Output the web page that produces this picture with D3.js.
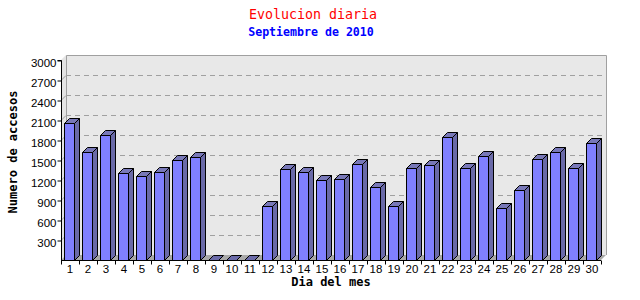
<!DOCTYPE html>
<html><head><meta charset="utf-8">
<script src="https://cdn.jsdelivr.net/npm/d3@7"></script>
<style>body{margin:0;background:#fff}svg{display:block}</style>
</head><body><svg id="c" width="640" height="300"></svg>
<script>
const days = ["1","2","3","4","5","6","7","8","9","10","11","12","13","14","15","16","17","18","19","20","21","22","23","24","25","26","27","28","29","30"];
const visits = [2060,1615,1870,1300,1260,1315,1495,1540,0,0,0,815,1360,1315,1195,1210,1435,1090,805,1375,1420,1840,1375,1555,775,1045,1510,1615,1375,1750];
const yTicks = [300,600,900,1200,1500,1800,2100,2400,2700,3000];
const titleText = "Evolucion diaria";
const subtitleText = "Septiembre de 2010";
const xTitle = "Dia del mes";
const yTitle = "Numero de accesos";

(function () {
const svg = d3.select("#c");
const L = 61, R = 601, T = 60, B = 260, D = 5;
const x = d3.scaleBand().domain(days).range([L, R]);
const y = d3.scaleLinear().domain([0, 3000]).range([B, T]);
const bw = x.bandwidth();

// walls
svg.append("rect").attr("x", L + D).attr("y", T - D).attr("width", R - L).attr("height", B - T)
  .attr("fill", "#e8e8e8");
svg.append("path").attr("d", `M${L},${T}L${L+D},${T-D}L${L+D},${B-D}L${L},${B}Z`).attr("fill", "#e4e4e4");
// floor
svg.append("path").attr("d", `M${L},${B}L${L+D},${B-D}L${R+D},${B-D}L${R},${B}Z`).attr("fill", "#a8a8a8");
// wall border
svg.append("path").attr("d", `M${L+D+0.5},${B-D}L${L+D+0.5},${T-D+0.5}L${R+D+0.5},${T-D+0.5}L${R+D+0.5},${B-D}`)
  .attr("fill", "none").attr("stroke", "#a0a0a0");
// gridlines
yTicks.forEach(t => {
  if (t === 3000) return;
  svg.append("line").attr("x1", L + D).attr("x2", R + D).attr("y1", y(t) - D + 0.5).attr("y2", y(t) - D + 0.5)
    .attr("stroke", "#a0a0a0").attr("stroke-dasharray", "5,4");
  svg.append("line").attr("x1", L).attr("x2", L + D).attr("y1", y(t) + 0.5).attr("y2", y(t) - D + 0.5)
    .attr("stroke", "#a0a0a0");
});

// bars
const cFront = "#8080ff", cSide = "#6a6aa8", cTop = "#7878b8";
const g = svg.append("g").attr("stroke", "#000").attr("stroke-width", 1).attr("stroke-linejoin", "round");
days.forEach((d, i) => {
  const v = visits[i];
  const x0 = Math.round(x(d) + bw * 0.19) + 0.5;
  const w = Math.round(bw * 0.53);
  const yt = Math.round(y(v)) + 0.5;
  const yb = B + 0.5;
  if (v > 0) {
    g.append("path").attr("fill", cSide)
      .attr("d", `M${x0+w},${yt}L${x0+w+D},${yt-D}L${x0+w+D},${yb-D}L${x0+w},${yb}Z`);
    g.append("rect").attr("fill", cFront).attr("x", x0).attr("y", yt).attr("width", w).attr("height", yb - yt);
  }
  g.append("path").attr("fill", v > 0 ? cTop : cSide)
    .attr("d", `M${x0},${yt}L${x0+D},${yt-D}L${x0+w+D},${yt-D}L${x0+w},${yt}Z`);
});

// axes
const yAxis = d3.axisLeft(y).tickValues(yTicks).tickSize(4).tickFormat(d3.format("d"));
const ya = svg.append("g").attr("transform", `translate(${L + 0.5},0.5)`).call(yAxis);
ya.select(".domain").attr("d", `M-4,${T}H0V${B}`);
ya.selectAll("text").attr("font-family", "Liberation Sans, Arial, sans-serif").attr("font-size", 11.5).attr("fill", "#000").attr("dy", "0.5em").attr("x", -5);

const xAxis = d3.axisBottom(x).tickSize(0);
const xa = svg.append("g").attr("transform", `translate(0,${B + 0.5})`).call(xAxis);
xa.select(".domain").attr("d", `M${L},0H${R}`);
xa.selectAll("text").attr("font-family", "Liberation Sans, Arial, sans-serif").attr("font-size", 11.5).attr("fill", "#000").attr("y", 4).attr("dy", "0.71em");
days.forEach(d => {
  xa.append("line").attr("x1", Math.round(x(d) + bw) + 0.5).attr("x2", Math.round(x(d) + bw) + 0.5).attr("y1", 0).attr("y2", 4).attr("stroke", "#000");
});
xa.append("line").attr("x1", L + 0.5).attr("x2", L + 0.5).attr("y1", 0).attr("y2", 4).attr("stroke", "#000");

// titles
const mono = "DejaVu Sans Mono, Liberation Mono, monospace";
svg.append("text").attr("x", 313).attr("y", 19).attr("text-anchor", "middle").attr("font-family", mono)
  .attr("font-size", 13.3).attr("fill", "#ff0000").text(titleText);
svg.append("text").attr("x", 311).attr("y", 36).attr("text-anchor", "middle").attr("font-family", mono)
  .attr("font-weight", "bold").attr("font-size", 11.6).attr("fill", "#0000ff").text(subtitleText);
svg.append("text").attr("x", 331).attr("y", 286).attr("text-anchor", "middle").attr("font-family", mono)
  .attr("font-weight", "bold").attr("font-size", 12).attr("fill", "#000").text(xTitle);
svg.append("text").attr("transform", "translate(17,152) rotate(-90)").attr("text-anchor", "middle").attr("font-family", mono)
  .attr("font-weight", "bold").attr("font-size", 12).attr("fill", "#000").text(yTitle);
})();
</script></body></html>
